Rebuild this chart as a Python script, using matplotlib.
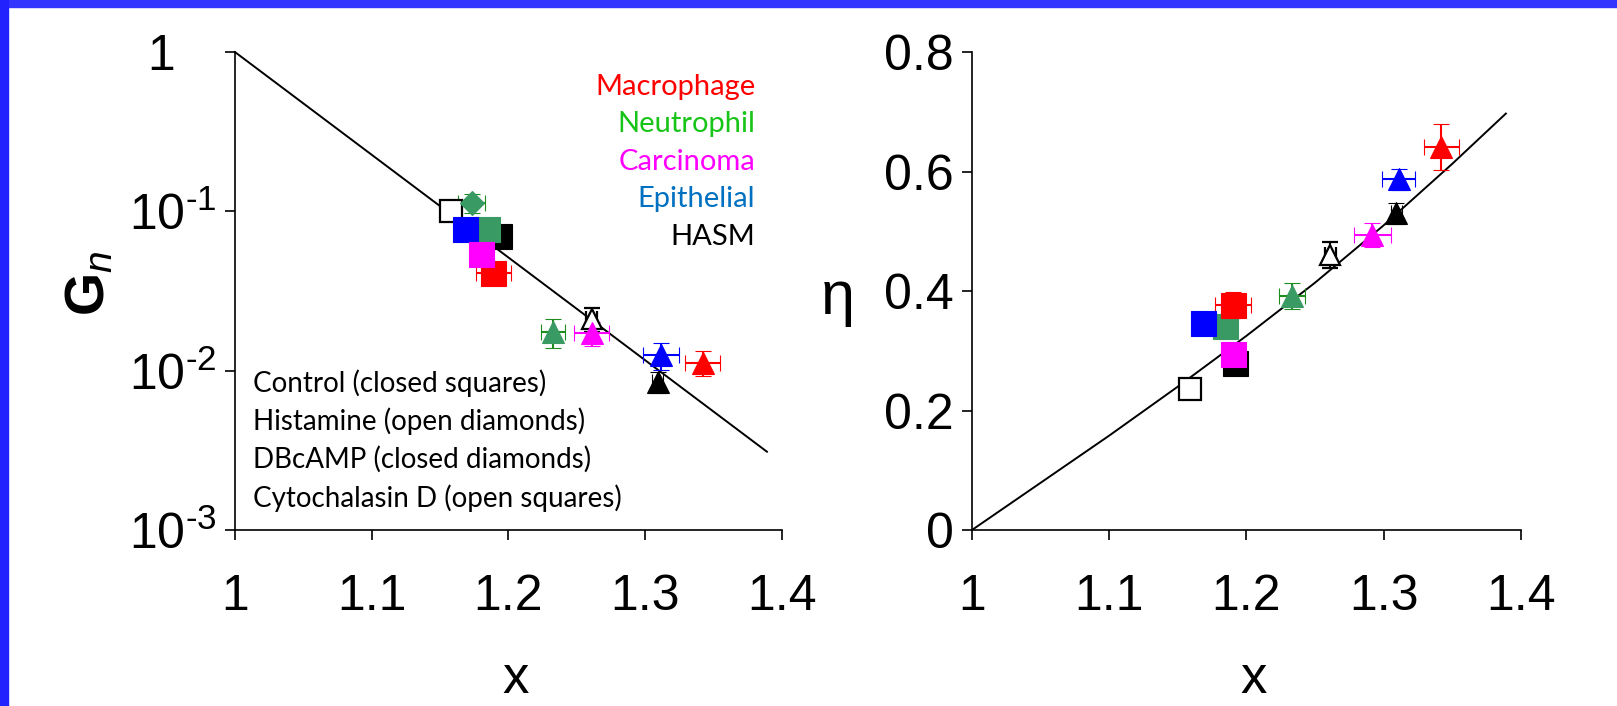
import numpy as np
import matplotlib
matplotlib.use('Agg')
import matplotlib.pyplot as plt
from matplotlib.patches import Rectangle
from matplotlib.ticker import NullLocator

# ---- data ----

# left panel: G_n vs x (log scale)
gn_cell = ['HASM', 'HASM', 'Neutrophil', 'Neutrophil', 'Epithelial', 'Macrophage', 'Carcinoma',
           'HASM', 'Neutrophil', 'Carcinoma', 'Epithelial', 'Macrophage', 'HASM']
gn_shape = ['open_sq', 'sq', 'dia', 'sq', 'sq', 'sq', 'sq',
            'open_tri', 'tri', 'tri', 'tri', 'tri', 'tri']
gn_x = [1.158, 1.193, 1.173, 1.184, 1.168, 1.189, 1.180, 1.261, 1.2325, 1.261, 1.3115, 1.342, 1.309]
gn_y = [0.100, 0.070, 0.113, 0.078, 0.0774, 0.041, 0.054, 0.021, 0.0175, 0.0173, 0.0125, 0.0112, 0.0085]
gn_xerr = [0.0, 0.004, 0.010, 0.0, 0.0, 0.0125, 0.0, 0.004, 0.009, 0.0128, 0.013, 0.013, 0.004]
gn_yerr = [0.0, 0.008, 0.016, 0.0, 0.0, 0.005, 0.0, 0.0036, 0.0037, 0.0030, 0.0024, 0.0020, 0.0013]

# model line, left panel
gn_line_x = [1.0, 1.389]
gn_line_y = [1.0, 0.0031]

# right panel: eta vs x
eta_cell = ['HASM', 'HASM', 'Carcinoma', 'Neutrophil', 'Epithelial', 'Macrophage',
            'HASM', 'Neutrophil', 'Carcinoma', 'Epithelial', 'Macrophage', 'HASM']
eta_shape = ['open_sq', 'sq', 'sq', 'sq', 'sq', 'sq',
             'open_tri', 'tri', 'tri', 'tri', 'tri', 'tri']
eta_x = [1.159, 1.192, 1.190, 1.184, 1.1686, 1.190, 1.261, 1.233, 1.2917, 1.311, 1.342, 1.309]
eta_y = [0.236, 0.279, 0.2946, 0.342, 0.346, 0.377, 0.460, 0.392, 0.494, 0.587, 0.641, 0.530]
eta_xerr = [0.0, 0.0, 0.0, 0.0, 0.0, 0.013, 0.004, 0.0093, 0.0136, 0.012, 0.0125, 0.004]
eta_yerr = [0.0, 0.0, 0.0, 0.0, 0.0, 0.022, 0.022, 0.022, 0.020, 0.018, 0.038, 0.018]

# model line, right panel
eta_line_x = [1.0, 1.05, 1.1, 1.15, 1.2, 1.25, 1.3, 1.35, 1.389]
eta_line_y = [0.0, 0.079, 0.158, 0.240, 0.325, 0.414, 0.510, 0.613, 0.697]

cell_names = ['Macrophage', 'Neutrophil', 'Carcinoma', 'Epithelial', 'HASM']
treatments = ['Control (closed squares)', 'Histamine (open diamonds)',
              'DBcAMP (closed diamonds)', 'Cytochalasin D (open squares)']

x_ticks = [1, 1.1, 1.2, 1.3, 1.4]
x_tick_labels = ['1', '1.1', '1.2', '1.3', '1.4']
gn_ticks = [1e-3, 1e-2, 1e-1, 1]
gn_tick_labels = [r'$\mathregular{10^{\text{-}3}}$', r'$\mathregular{10^{\text{-}2}}$',
                  r'$\mathregular{10^{\text{-}1}}$', '1   ']
eta_ticks = [0, 0.2, 0.4, 0.6, 0.8]
eta_tick_labels = ['0', '0.2', '0.4', '0.6', '0.8']

# ---- styles ----
text_colors = {'Macrophage': '#FF0000', 'Neutrophil': '#18C418', 'Carcinoma': '#FF00FF',
               'Epithelial': '#0070C0', 'HASM': '#000000'}
marker_colors = {'Macrophage': '#FF0000', 'Neutrophil': '#3A9A63', 'Carcinoma': '#FF00FF',
                 'Epithelial': '#0000FF', 'HASM': '#000000'}
err_colors = {'Macrophage': '#FF0000', 'Neutrophil': '#1E8C1E', 'Carcinoma': '#FF00FF',
              'Epithelial': '#0000FF', 'HASM': '#000000'}
shapes = {'sq': ('s', 18, False), 'open_sq': ('s', 16, True), 'dia': ('D', 12, False),
          'tri': ('^', 16, False), 'open_tri': ('^', 15, True)}

plt.rcParams['font.family'] = ['Liberation Sans', 'DejaVu Sans']
plt.rcParams['mathtext.fontset'] = 'custom'
plt.rcParams['mathtext.rm'] = 'Liberation Sans'
plt.rcParams['mathtext.it'] = 'Liberation Sans:italic'
plt.rcParams['mathtext.bf'] = 'Liberation Sans:bold'

note_font = ['Lato', 'DejaVu Sans']


def draw_points(ax, cells, kinds, xs, ys, xerrs, yerrs):
    for c, k, x, y, xe, ye in zip(cells, kinds, xs, ys, xerrs, yerrs):
        m, ms, hollow = shapes[k]
        face = 'white' if hollow else marker_colors[c]
        ax.errorbar(x, y, xerr=xe if xe else None, yerr=ye if ye else None,
                    fmt=m, ms=ms, mfc=face, mec=marker_colors[c],
                    mew=1.6 if hollow else 0.8, ecolor=err_colors[c],
                    elinewidth=1.5, capsize=6, capthick=1.5, zorder=3)


def style_axes(ax):
    for s in ['top', 'right']:
        ax.spines[s].set_visible(False)
    for s in ['left', 'bottom']:
        ax.spines[s].set_linewidth(1.2)
    ax.set_xlim(1, 1.4)
    ax.set_xticks(x_ticks)
    ax.set_xticklabels(x_tick_labels)
    ax.tick_params(axis='x', direction='out', length=7, width=1.2, labelsize=36, pad=25)
    ax.tick_params(axis='y', direction='out', length=7, width=1.2, labelsize=36, pad=6)
    ax.set_xlabel('x', fontsize=38)
    ax.xaxis.set_label_coords(0.513, -0.26)


fig = plt.figure(figsize=(16.17, 7.06), dpi=100)

# left: G_n
ax1 = fig.add_axes([0.1453, 0.2493, 0.3383, 0.677])
ax1.set_yscale('log')
ax1.set_ylim(1e-3, 1)
ax1.plot(gn_line_x, gn_line_y, color='black', lw=1.4, clip_on=False, zorder=2)
draw_points(ax1, gn_cell, gn_shape, gn_x, gn_y, gn_xerr, gn_yerr)
style_axes(ax1)
ax1.set_yticks(gn_ticks)
ax1.set_yticklabels(gn_tick_labels)
ax1.yaxis.set_minor_locator(NullLocator())
ax1.set_ylabel(r'$\mathbf{G}_{\mathit{n}}$', fontsize=40)
ax1.yaxis.set_label_coords(-0.216, 0.517)

for i, name in enumerate(cell_names):
    ax1.text(0.951, 0.927 - i * 0.0785, name, transform=ax1.transAxes, ha='right', va='center',
             color=text_colors[name], fontsize=21, family=note_font)
for i, t in enumerate(treatments):
    ax1.text(0.033, 0.3075 - i * 0.0803, t, transform=ax1.transAxes, ha='left', va='center',
             color='black', fontsize=20, family=note_font)

# right: eta
ax2 = fig.add_axes([0.6011, 0.2493, 0.3395, 0.677])
ax2.set_ylim(0, 0.8)
ax2.plot(eta_line_x, eta_line_y, color='black', lw=1.4, zorder=2)
draw_points(ax2, eta_cell, eta_shape, eta_x, eta_y, eta_xerr, eta_yerr)
style_axes(ax2)
ax2.set_yticks(eta_ticks)
ax2.set_yticklabels(eta_tick_labels)
ax2.set_ylabel('η', fontsize=44, rotation=0, va='center', ha='center')
ax2.yaxis.set_label_coords(-0.245, 0.485)

# blue frame strips
fig.patches.append(Rectangle((0, 1 - 7 / 706), 1, 7 / 706, transform=fig.transFigure,
                             color='#3434FF', zorder=10))
fig.patches.append(Rectangle((0, 0), 8 / 1617, 1, transform=fig.transFigure,
                             color='#2222FF', zorder=10))

fig.savefig('out.png', dpi=100)
